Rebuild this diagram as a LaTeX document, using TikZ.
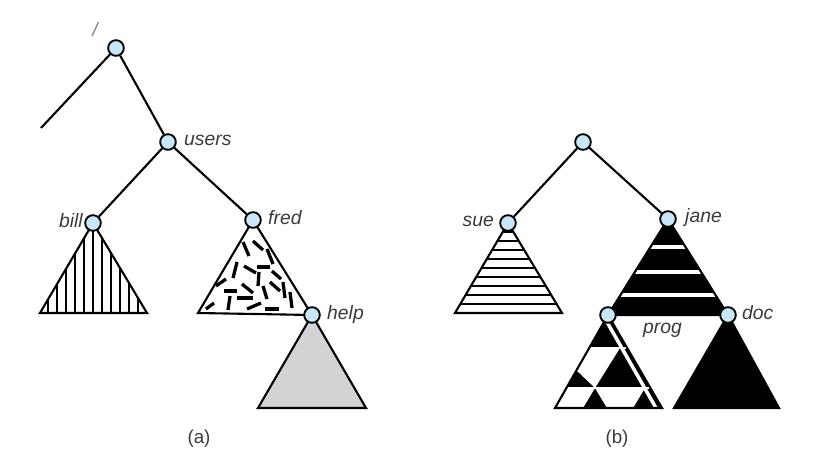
\documentclass[tikz,border=0pt]{standalone}
\usepackage{fontspec}
\setmainfont{Liberation Sans}
\usepackage{tikz}
\usetikzlibrary{calc, backgrounds}

\definecolor{dirblue}{RGB}{200,230,246}
\definecolor{labelgray}{RGB}{58,58,58}
\definecolor{helpgray}{RGB}{209,211,212}

\tikzset{
  dirnode/.style={circle, draw, fill=dirblue, line width=1.6pt, minimum size=0.47cm, inner sep=0pt},
  branch/.style={line width=1.8pt},
  subtree/.style={draw, line width=1.8pt, line join=miter},
  hatch/.style={line width=1.4pt},
  chip/.style={line width=2.8pt},
  gap/.style={white, line width=3pt},
  lbl/.style={font=\fontsize{16.5}{18}\selectfont\itshape, text=labelgray, inner sep=0pt},
  subcap/.style={font=\fontsize{16}{18}\selectfont, text=labelgray, inner sep=0pt}
}

\begin{document}
\begin{tikzpicture}[x=0.03cm, y=-0.03cm]
            \useasboundingbox (0,0) rectangle (836,472);

            % (a)
            \node[dirnode] (root) at (116,48) {};
            \node[dirnode] (users) at (168,142) {};
            \node[dirnode] (bill) at (93,223) {};
            \node[dirnode] (fred) at (253,220) {};
            \node[dirnode] (help) at (312,315) {};
            \coordinate (leftend) at (41,128);

            \node[lbl, text=gray] (slash) at (95,30) {/};
            \node[lbl, anchor=west] (userslbl) at (184,140) {users};
            \node[lbl, anchor=east] (billlbl) at (83,221) {bill};
            \node[lbl, anchor=west] (fredlbl) at (268,218) {fred};
            \node[lbl, anchor=west] (helplbl) at (327,314) {help};
            \node[subcap] (capa) at (199,439) {(a)};

            \draw[branch] (root) -- (leftend);
            \draw[branch] (root) -- (users);
            \draw[branch] (users) -- (bill);
            \draw[branch] (users) -- (fred);

            % (b)
            \node[dirnode] (rootb) at (583,142) {};
            \node[dirnode] (sue) at (508,223) {};
            \node[dirnode] (jane) at (668,219) {};
            \node[dirnode] (prog) at (608,315) {};
            \node[dirnode] (doc) at (728,315) {};

            \node[lbl, anchor=east] (suelbl) at (494,221) {sue};
            \node[lbl, anchor=west] (janelbl) at (685,217) {jane};
            \node[lbl, anchor=west] (proglbl) at (643,330) {prog};
            \node[lbl, anchor=west] (doclbl) at (742,313) {doc};
            \node[subcap] (capb) at (617,439) {(b)};

            \draw[branch] (rootb) -- (sue);
            \draw[branch] (rootb) -- (jane);

            \begin{pgfonlayer}{background}
              % bill: vertical hatching
              \begin{scope}
                \clip (bill.center) -- ++(-53,90) -- ++(107,0) -- cycle;
                \foreach \dx in {-45,-36,...,45}
                  \draw[hatch] ($(bill)+(\dx,0)$) -- ++(0,95);
              \end{scope}
              \draw[subtree] (bill.center) -- ++(-53,90) -- ++(107,0) -- cycle;

              % fred: scattered chips
              \begin{scope}
                \clip (fred.center) -- ++(-55,93) -- (help.center) -- cycle;
                \foreach \ax/\ay/\bx/\by in {-10/22/-4/36, 0/21/10/30, 14/29/20/44, -16/42/-20/58,
                    -9/46/3/53, 4/47/17/47, 6/52/5/66, 19/51/28/59, -37/66/-27/59,
                    -29/71/-16/71, -11/64/0/73, 10/66/14/79, 17/62/27/71, 30/62/32/78,
                    -47/89/-39/83, -23/76/-25/90, -16/78/0/78, -6/89/8/83, 12/89/26/89,
                    37/72/39/88}
                  \draw[chip] ($(fred)+(\ax,\ay)$) -- ($(fred)+(\bx,\by)$);
              \end{scope}
              \draw[subtree] (fred.center) -- ++(-55,93) -- (help.center) -- cycle;

              % help: plain grey
              \draw[subtree, fill=helpgray] (help.center) -- ++(-54,93) -- ++(108,0) -- cycle;

              % sue: horizontal hatching
              \begin{scope}
                \clip (sue.center) -- ++(-53,90) -- ++(107,0) -- cycle;
                \foreach \dy in {9,18,...,81}
                  \draw[hatch] ($(sue)+(-60,\dy)$) -- ++(120,0);
              \end{scope}
              \draw[subtree] (sue.center) -- ++(-53,90) -- ++(107,0) -- cycle;

              % jane: black with white bands
              \fill (jane.center) -- (prog.center) -- (doc.center) -- cycle;
              \begin{scope}
                \clip (jane.center) -- (prog.center) -- (doc.center) -- cycle;
                \foreach \dy in {28,53,76}
                  \draw[gap] ($(jane)+(-70,\dy)$) -- ++(140,0);
              \end{scope}
              \draw[subtree] (jane.center) -- (prog.center) -- (doc.center) -- cycle;

              % prog: black and white pieces
              \fill (prog.center) -- ++(-53,93) -- ++(107,0) -- cycle;
              \begin{scope}
                \clip (prog.center) -- ++(-53,93) -- ++(107,0) -- cycle;
                \fill[white] ($(prog)+(-24,33)$) -- ($(prog)+(12,33)$) -- ($(prog)+(-13,73)$) -- ($(prog)+(-34,53)$) -- cycle;
                \fill[white] ($(prog)+(-44,73)$) -- ($(prog)+(-13,73)$) -- ($(prog)+(-25,93)$) -- ($(prog)+(-58,93)$) -- cycle;
                \fill[white] ($(prog)+(-13,73)$) -- ($(prog)+(37,73)$) -- ($(prog)+(25,93)$) -- ($(prog)+(-1,93)$) -- cycle;
                \draw[white, line width=2pt] ($(prog)+(-60,33)$) -- ++(120,0);
                \draw[white, line width=2pt] ($(prog)+(-60,73)$) -- ++(120,0);
                \draw[gap] ($(prog)+(-5,0)$) -- ++(53,93);
              \end{scope}
              \draw[subtree] (prog.center) -- ++(-53,93) -- ++(107,0) -- cycle;

              % doc: solid black
              \filldraw[subtree] (doc.center) -- ++(-54,93) -- ++(105,0) -- cycle;
            \end{pgfonlayer}
        \end{tikzpicture}
\end{document}
